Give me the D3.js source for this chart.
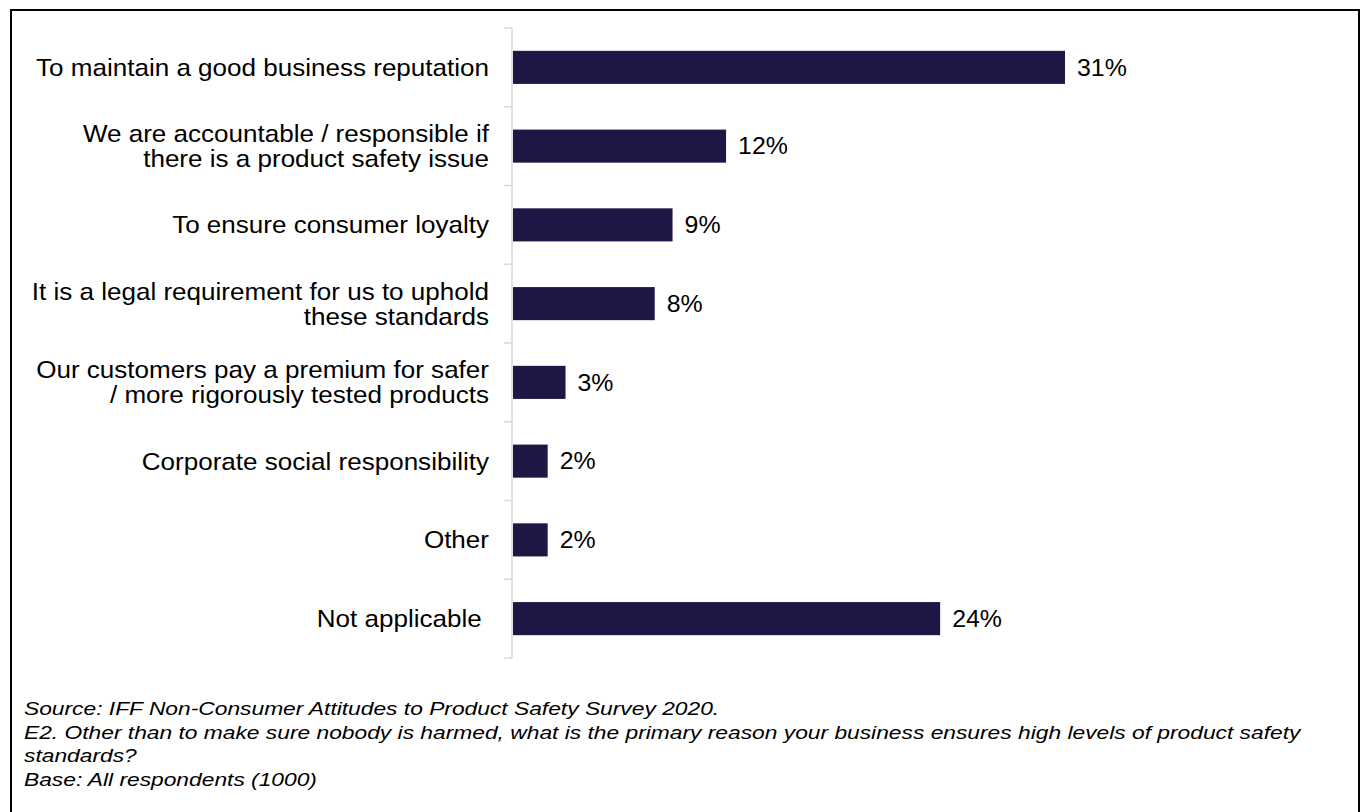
<!DOCTYPE html>
<html>
<head>
<meta charset="utf-8">
<script src="https://cdn.jsdelivr.net/npm/d3@7"></script>
<style>
  body { margin: 0; background: #fff; }
  svg { display: block; font-family: Arial, "Liberation Sans", sans-serif; }
</style>
</head>
<body>
<div id="chart"></div>
<script>
// categories, each entry is a list of label lines
var categories = [
    ["To maintain a good business reputation"],
    ["We are accountable / responsible if", "there is a product safety issue"],
    ["To ensure consumer loyalty"],
    ["It is a legal requirement for us to uphold", "these standards"],
    ["Our customers pay a premium for safer", "/ more rigorously tested products"],
    ["Corporate social responsibility"],
    ["Other"],
    ["Not applicable "]
];
var values = [31, 12, 9, 8, 3, 2, 2, 24];
var notes = [
    "Source: IFF Non-Consumer Attitudes to Product Safety Survey 2020.",
    "E2. Other than to make sure nobody is harmed, what is the primary reason your business ensures high levels of product safety",
    "standards?",
    "Base: All respondents (1000)"
];

var width = 1362, height = 812;
var svg = d3.select("#chart").append("svg")
    .attr("width", width)
    .attr("height", height);

// frame
svg.append("rect")
    .attr("x", 11).attr("y", 10)
    .attr("width", 1348).attr("height", 820)
    .attr("fill", "none")
    .attr("stroke", "#000")
    .attr("stroke-width", 2);

var x0 = 512;
var x = d3.scaleLinear().domain([0, 31]).range([x0, 1065]);
var y = d3.scaleBand()
    .domain(d3.range(categories.length))
    .range([28, 658])
    .paddingInner(0.58)
    .paddingOuter(0.29);

// band boundaries for the ticks
var bounds = d3.range(categories.length + 1).map(function (i) { return 28 + i * (630 / categories.length); });

var axis = svg.append("g").attr("stroke", "#d9d9d9").attr("stroke-width", 1.5);
axis.append("line")
    .attr("x1", x0).attr("x2", x0)
    .attr("y1", 28).attr("y2", 658);
axis.selectAll(".tick").data(bounds).enter().append("line")
    .attr("x1", x0 - 8).attr("x2", x0)
    .attr("y1", function (d) { return d; })
    .attr("y2", function (d) { return d; });

svg.selectAll(".bar").data(values).enter().append("rect")
    .attr("x", x0 + 1)
    .attr("y", function (d, i) { return y(i); })
    .attr("width", function (d) { return x(d) - x0 - 1; })
    .attr("height", y.bandwidth())
    .attr("fill", "#1f1646");

svg.selectAll(".val").data(values).enter().append("text")
    .attr("transform", function (d, i) {
        return "translate(" + (x(d) + 12) + "," + (y(i) + y.bandwidth() / 2) + ") scale(1.06,1)";
    })
    .attr("dy", "0.35em")
    .attr("font-size", 23.5)
    .attr("fill", "#000")
    .text(function (d) { return d + "%"; });

// labels look a bit wide in the original, stretch them horizontally
var lab = svg.selectAll(".cat").data(categories).enter().append("text")
    .attr("text-anchor", "end")
    .attr("font-size", 24)
    .attr("fill", "#000")
    .style("white-space", "pre")
    .attr("transform", function (d, i) {
        var cy = y(i) + y.bandwidth() / 2 - (d.length - 1) * 12.5;
        return "translate(489," + cy + ") scale(1.085,1)";
    });
lab.selectAll("tspan").data(function (d) { return d; }).enter().append("tspan")
    .attr("x", 0)
    .attr("y", function (d, i) { return i * 25; })
    .attr("dy", "0.35em")
    .text(function (d) { return d; });

svg.selectAll(".note").data(notes).enter().append("text")
    .attr("transform", function (d, i) { return "translate(24," + (715 + i * 23.7) + ") scale(1.2,1)"; })
    .attr("font-size", 19)
    .attr("font-style", "italic")
    .attr("fill", "#000")
    .text(function (d) { return d; });
</script>
</body>
</html>
